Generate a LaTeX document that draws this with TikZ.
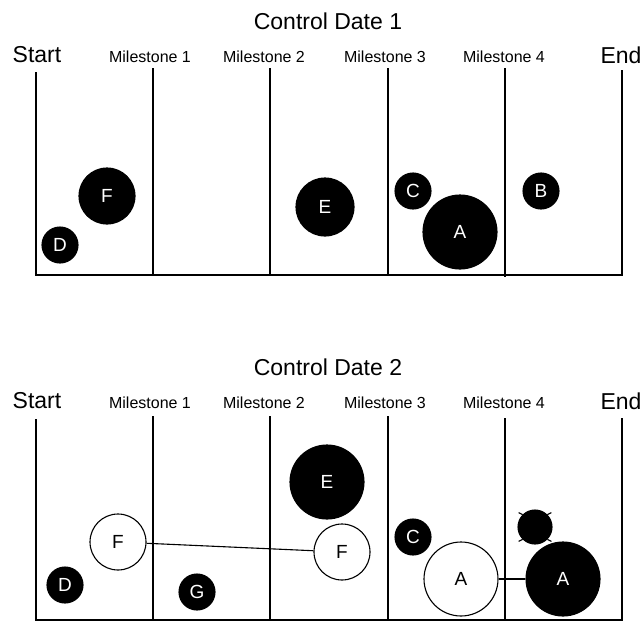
\documentclass[tikz,border=0pt]{standalone}
\usepackage{fontspec}
\setmainfont{Liberation Sans}
\usetikzlibrary{positioning}
\begin{document}
\begin{tikzpicture}[x=1pt, y=-1pt, line width=1.1pt]
    \tikzstyle{full} = [circle, draw, fill=black, text=white, inner sep=0pt, font=\fontsize{19}{19}\selectfont]
    \tikzstyle{open} = [circle, draw, fill=white, text=black, inner sep=0pt, font=\fontsize{19}{19}\selectfont]
    \tikzstyle{title} = [inner sep=0pt, font=\fontsize{23}{23}\selectfont]
    \tikzstyle{milestone} = [inner sep=0pt, font=\fontsize{16}{16}\selectfont]
    \tikzstyle{line} = [draw]

    \useasboundingbox (0,0) rectangle (642,621);

    \node[title] (date1) at (328,21) {Control Date 1};
    \node[title] (start1) at (37,55) {Start};
    \node[milestone] (ms11) at (150,57) {Milestone 1};
    \node[milestone] (ms12) at (264,57) {Milestone 2};
    \node[milestone] (ms13) at (385,57) {Milestone 3};
    \node[milestone] (ms14) at (504,57) {Milestone 4};
    \node[title] (end1) at (621,55) {End};

    \draw (36,72) -- (36,275) -- (622,275) -- (622,70);
    \draw (153,68) -- (153,275);
    \draw (270,68) -- (270,275);
    \draw (388,68) -- (388,275);
    \draw (505,68) -- (505,277);

    \node[full, minimum size=56] (F1) at (107,196) {F};
    \node[full, minimum size=36] (D1) at (60,245) {D};
    \node[full, minimum size=58] (E1) at (325,207) {E};
    \node[full, minimum size=36] (C1) at (413,191) {C};
    \node[full, minimum size=74] (A1) at (460,232) {A};
    \node[full, minimum size=36] (B1) at (541,191) {B};

    \node[title] (date2) at (328,367) {Control Date 2};
    \node[title] (start2) at (37,401) {Start};
    \node[milestone] (ms21) at (150,403) {Milestone 1};
    \node[milestone] (ms22) at (264,403) {Milestone 2};
    \node[milestone] (ms23) at (385,403) {Milestone 3};
    \node[milestone] (ms24) at (504,403) {Milestone 4};
    \node[title] (end2) at (621,401) {End};

    \draw (36,419) -- (36,620) -- (622,620) -- (622,418);
    \draw (153,416) -- (153,620);
    \draw (270,416) -- (270,620);
    \draw (388,416) -- (388,620);
    \draw (505,418) -- (505,620);

    \node[open, minimum size=56] (F2) at (118,542) {F};
    \node[open, minimum size=56] (F3) at (342,552) {F};
    \node[full, minimum size=74] (E2) at (327,482) {E};
    \node[full, minimum size=36] (C2) at (413,537) {C};
    \node[full, minimum size=36] (D2) at (65,585) {D};
    \node[full, minimum size=36] (G2) at (197,592) {G};
    \node[open, minimum size=74] (A2) at (461,579) {A};
    \node[full, minimum size=74] (A3) at (563,579) {A};
    \node[full, minimum size=34] (X2) at (535,527) {};

    \path[line] (F2) -- (F3);
    \path[line] (A2) -- (A3);
    \draw (X2.north west) -- ++(-4,-2);
    \draw (X2.north east) -- ++(4,-2);
    \draw (X2.south west) -- ++(-4,2);
    \draw (X2.south east) -- ++(4,2);
\end{tikzpicture}
\end{document}
